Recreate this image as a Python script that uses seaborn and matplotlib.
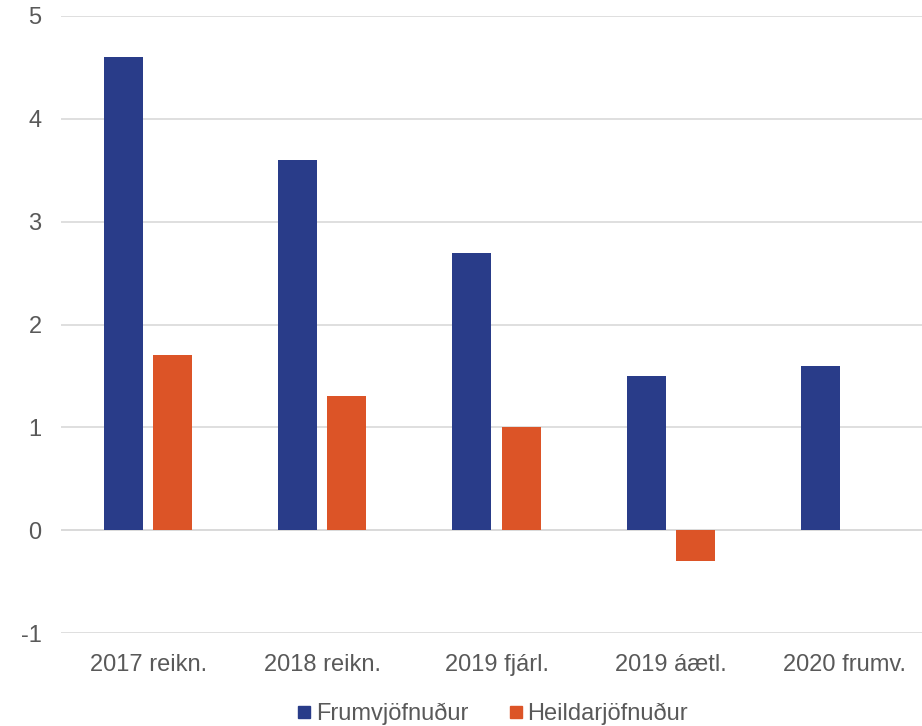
import numpy as np
import pandas as pd
import matplotlib
matplotlib.use("Agg")
import matplotlib.pyplot as plt
import seaborn as sns

categories = ["2017 reikn.", "2018 reikn.", "2019 fjárl.", "2019 áætl.", "2020 frumv."]
frumjofnudur = [4.6, 3.6, 2.7, 1.5, 1.6]
heildarjofnudur = [1.7, 1.3, 1.0, -0.3, np.nan]
series_names = ["Frumvjöfnuður", "Heildarjöfnuður"]
colors = ["#293c89", "#dc5427"]

df = pd.DataFrame({
    "Flokkur": categories * 2,
    "Röð": [series_names[0]] * len(categories) + [series_names[1]] * len(categories),
    "Gildi": frumjofnudur + heildarjofnudur,
})

sns.set_theme(style="white")
plt.rcParams["font.family"] = ["Liberation Sans", "DejaVu Sans"]
plt.rcParams["axes.unicode_minus"] = False

fig = plt.figure(figsize=(9.22, 7.26), dpi=100)
# plot area runs slightly past the right edge of the canvas
ax = fig.add_axes([61 / 922, 1 - 633 / 726, 871 / 922, (633 - 16) / 726])

sns.barplot(data=df, x="Flokkur", y="Gildi", hue="Röð", palette=colors,
            width=0.564, gap=0.205, ax=ax, legend=False, saturation=1, linewidth=0)

ax.set_ylim(-1, 5)
ax.set_yticks(range(-1, 6))
ax.set_xlim(-0.5, len(categories) - 0.5)
ax.yaxis.grid(True, color="#d9d9d9", linewidth=1.2)
ax.set_axisbelow(True)
for s in ax.spines.values():
    s.set_visible(False)
ax.axhline(0, color="#d9d9d9", linewidth=1.2, zorder=0.5)
ax.set_xlabel("")
ax.set_ylabel("")
ax.tick_params(axis="y", length=0, pad=14, labelsize=17, labelcolor="#595959")
ax.tick_params(axis="x", length=0, pad=15, labelsize=17, labelcolor="#595959")

handles = [plt.Line2D([], [], marker="s", linestyle="", markersize=9,
                      markerfacecolor=c, markeredgecolor=c) for c in colors]
fig.legend(handles, series_names, loc="center", bbox_to_anchor=(0.533, 1 - 714 / 726),
           ncol=2, frameon=False, fontsize=17, labelcolor="#595959",
           handletextpad=0.1, columnspacing=1.6, handlelength=0.8)

fig.savefig("out.png", dpi=100, facecolor="white")
